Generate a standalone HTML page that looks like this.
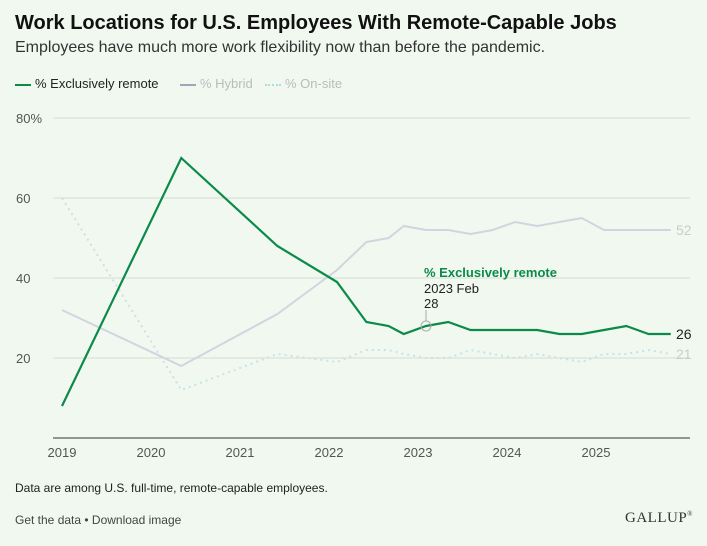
<!DOCTYPE html>
<html><head><meta charset="utf-8"><style>
body{margin:0;background:#f1f8f0;font-family:"Liberation Sans",sans-serif;}
#wrap{position:relative;width:707px;height:546px;overflow:hidden;background:#f1f8f0;}
.t{position:absolute;white-space:nowrap;}
</style></head><body>
<div id="wrap">
<div class="t" style="left:15px;top:12px;font-size:20px;font-weight:bold;color:#111">Work Locations for U.S. Employees With Remote-Capable Jobs</div>
<div class="t" style="left:15px;top:39px;font-size:16px;color:#333">Employees have much more work flexibility now than before the pandemic.</div>
<div class="t" style="left:15px;top:76px;font-size:13px;color:#222"><span style="display:inline-block;width:16px;height:2px;background:#0b8a4a;vertical-align:middle;margin-right:4px"></span>% Exclusively remote</div>
<div class="t" style="left:180px;top:76px;font-size:13px;color:#bbb"><span style="display:inline-block;width:16px;height:2px;background:#9aa8bb;vertical-align:middle;margin-right:4px"></span>% Hybrid</div>
<div class="t" style="left:265px;top:76px;font-size:13px;color:#bbb"><span style="display:inline-block;width:16px;border-top:2px dotted #aedbe6;vertical-align:middle;margin-right:4px"></span>% On-site</div>
<svg id="chart" width="707" height="546" style="position:absolute;left:0;top:0"></svg>
<div class="t" style="left:15px;top:481px;font-size:12px;color:#222">Data are among U.S. full-time, remote-capable employees.</div>
<div class="t" style="left:15px;top:513px;font-size:12px;color:#444">Get the data • Download image</div>
<div class="t" style="left:625px;top:510px;font-size:15px;color:#333;font-family:'Liberation Serif',serif;letter-spacing:0.5px">GALLUP<sup style="font-size:7px">®</sup></div>
</div>
<script>
const yTicks=[20,40,60,80];
const xTicks=[2019,2020,2021,2022,2023,2024,2025];
const dates=[2019,2020.34,2021.42,2022.09,2022.42,2022.67,2022.84,2023.09,2023.34,2023.59,2023.84,2024.09,2024.34,2024.59,2024.84,2025.09,2025.34,2025.59,2025.84];
const remote=[8,70,48,39,29,28,26,28,29,27,27,27,27,26,26,27,28,26,26];
const hybrid=[32,18,31,42,49,50,53,52,52,51,52,54,53,54,55,52,52,52,52];
const onsite=[60,12,21,19,22,22,21,20,20,22,21,20,21,20,19,21,21,22,21];
const svg=document.getElementById('chart');
const NS='http://www.w3.org/2000/svg';
const X=v=>62+(v-2019)*89;
const Y=v=>438-v*4;
function mk(t,a){const e=document.createElementNS(NS,t);for(const k in a)e.setAttribute(k,a[k]);svg.appendChild(e);return e;}
yTicks.forEach(v=>{
 const g=mk('line',{x1:53,x2:690,y1:Y(v),y2:Y(v),stroke:'#d5dcd5','stroke-width':1});
 
 
 const t=mk('text',{x:16,y:Y(v)+5,'font-size':13,fill:'#555','font-family':'Liberation Sans, sans-serif'});
 t.textContent=v+(v===80?'%':'');
 
 
});
const ax=mk('line',{x1:53,x2:690,y1:438,y2:438,stroke:'#333','stroke-width':1});


xTicks.forEach(v=>{
 const t=mk('text',{x:X(v),y:457,'font-size':13,fill:'#555','text-anchor':'middle','font-family':'Liberation Sans, sans-serif'});
 t.textContent=v;
 
 
});
function line(vals,attrs,name){
 const p=mk('polyline',Object.assign({points:vals.map((v,i)=>X(dates[i])+','+Y(v)).join(' '),fill:'none'},attrs));
 
 
}
line(onsite,{stroke:'#c5e3ea','stroke-width':2,'stroke-dasharray':'2 4'},'onsite-line');
line(hybrid,{stroke:'#cfd6df','stroke-width':2},'hybrid-line');
line(remote,{stroke:'#0b8a4a','stroke-width':2.2},'remote-line');
function endLabel(vals,col,name){
 const t=mk('text',{x:676,y:Y(vals[vals.length-1])+5,'font-size':14,fill:col,'font-family':'Liberation Sans, sans-serif'});
 t.textContent=vals[vals.length-1];
 
 
}
endLabel(hybrid,'#ccc','hybrid-end-label');
endLabel(onsite,'#ccc','onsite-end-label');
endLabel(remote,'#222','remote-end-label');
const hi=7,hx=X(dates[hi]),hy=Y(remote[hi]);
const c=mk('circle',{cx:hx,cy:hy,r:5,fill:'none',stroke:'#aaa','stroke-width':1});


const l=mk('line',{x1:hx,x2:hx,y1:hy-5,y2:hy-16,stroke:'#aaa'});


const a1=mk('text',{x:424,y:277,'font-size':13,'font-weight':'bold',fill:'#0b8a4a','font-family':'Liberation Sans, sans-serif'});
a1.textContent='% Exclusively remote';


const a2=mk('text',{x:424,y:293,'font-size':13,fill:'#222','font-family':'Liberation Sans, sans-serif'});
a2.textContent='2023 Feb';


const a3=mk('text',{x:424,y:308,'font-size':13,fill:'#222','font-family':'Liberation Sans, sans-serif'});
a3.textContent=remote[hi];


</script>
</body></html>
